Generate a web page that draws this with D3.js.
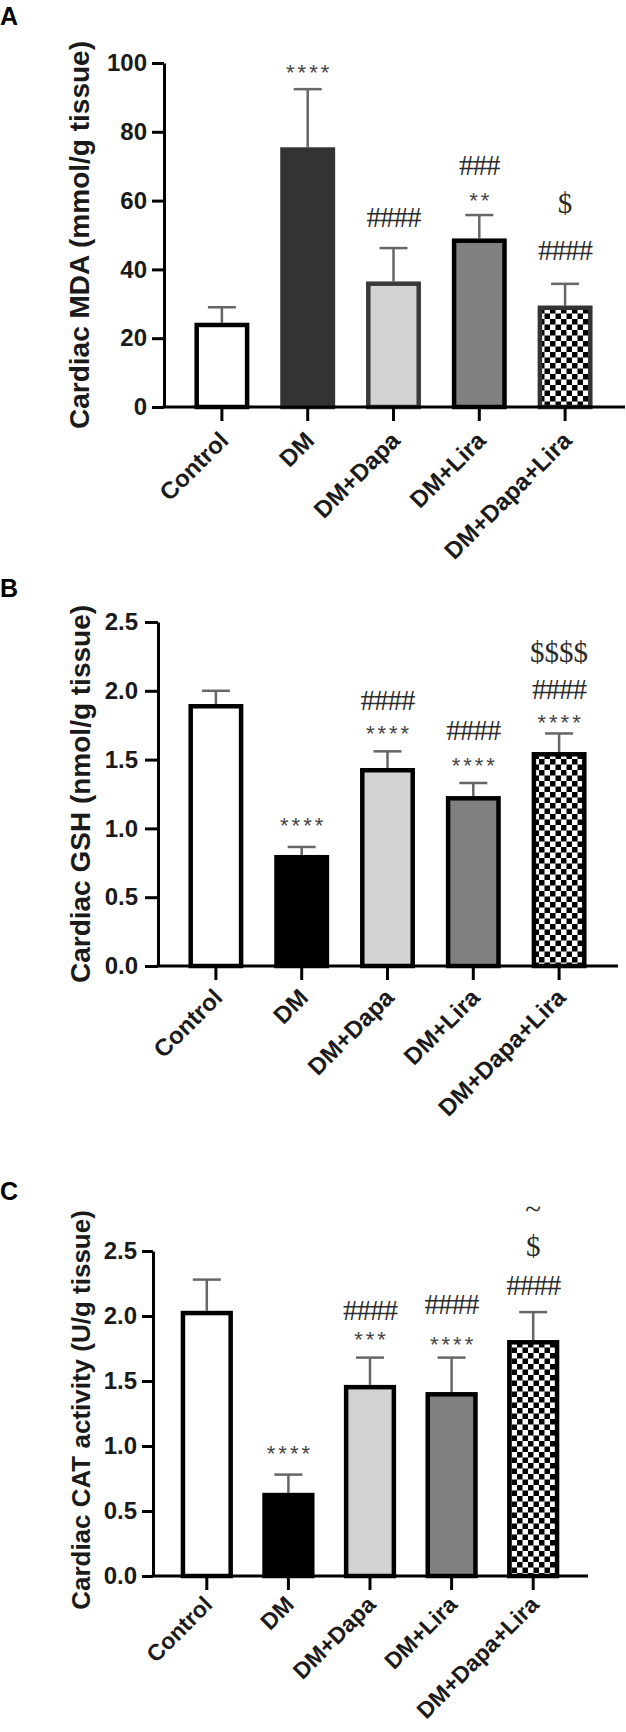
<!DOCTYPE html>
<html>
<head>
<meta charset="utf-8">
<script src="https://cdn.jsdelivr.net/npm/d3@7"></script>
<style>
  html, body { margin: 0; padding: 0; background: #fff; }
  svg { display: block; }
</style>
</head>
<body>
<svg id="chart" width="626" height="1732"></svg>
<script>
// ---------------- DATA ----------------
const categories = ["Control", "DM", "DM+Dapa", "DM+Lira", "DM+Dapa+Lira"];

const mdaMean = [24.5, 75.5, 36.5, 49.0, 29.5];
const mdaSem  = [4.5, 16.9, 9.7, 6.8, 6.3];
const mdaTicks = [0, 20, 40, 60, 80, 100];
const mdaMarks = [
  [],
  [["****", 98.8]],
  [["####", 55.2]],
  [["**", 61.6], ["###", 70.3]],
  [["####", 45.6], ["$", 59.3]]
];

const gshMean = [1.904, 0.807, 1.439, 1.235, 1.555];
const gshSem  = [0.096, 0.058, 0.121, 0.095, 0.135];
const gshTicks = [0.0, 0.5, 1.0, 1.5, 2.0, 2.5];
const gshMarks = [
  [],
  [["****", 1.061]],
  [["****", 1.730], ["####", 1.933]],
  [["****", 1.497], ["####", 1.708]],
  [["****", 1.810], ["####", 2.013], ["$$$$", 2.275]]
];

const catMean = [2.04, 0.64, 1.47, 1.415, 1.815];
const catSem  = [0.24, 0.14, 0.21, 0.265, 0.215];
const catTicks = [0.0, 0.5, 1.0, 1.5, 2.0, 2.5];
const catMarks = [
  [],
  [["****", 0.985]],
  [["***", 1.862], ["####", 2.046]],
  [["****", 1.823], ["####", 2.085]],
  [["####", 2.231], ["$", 2.531], ["~", 2.823]]
];

// ---------------- LAYOUT / STYLE ----------------
const svg = d3.select("#chart");

const defs = svg.append("defs");
const pat = defs.append("pattern")
  .attr("id", "checker")
  .attr("patternUnits", "userSpaceOnUse")
  .attr("width", 11).attr("height", 11);
pat.append("rect").attr("width", 11).attr("height", 11).attr("fill", "#fff");
pat.append("rect").attr("x", 0).attr("y", 0).attr("width", 5.5).attr("height", 5.5).attr("fill", "#000");
pat.append("rect").attr("x", 5.5).attr("y", 5.5).attr("width", 5.5).attr("height", 5.5).attr("fill", "#000");

const panels = [
  {
    letter: "A", letterY: 25,
    mean: mdaMean, sem: mdaSem, ticks: mdaTicks, marks: mdaMarks,
    fmt: d3.format("d"), yMax: 100,
    axisX: 164, y0: 407, y1: 63, xRange: [179, 608], axisEnd: 625,
    tickLen: 12, tickPad: 5,
    yLabel: "Cardiac MDA (mmol/g tissue)", yLabelX: 89, yLabelY: 235, yLabelSize: 28,
    xLabelSize: 24, xLabelDx: 8, xLabelDy: 35,
    fills:   ["#ffffff", "#333333", "#d3d3d3", "#808080", "url(#checker)"],
    strokes: ["#000000", "#333333", "#3a3a3a", "#000000", "#333333"]
  },
  {
    letter: "B", letterY: 597,
    mean: gshMean, sem: gshSem, ticks: gshTicks, marks: gshMarks,
    fmt: d3.format(".1f"), yMax: 2.5,
    axisX: 158, y0: 966, y1: 622, xRange: [173, 602], axisEnd: 618,
    tickLen: 13, tickPad: 7,
    yLabel: "Cardiac GSH (nmol/g tissue)", yLabelX: 90, yLabelY: 794, yLabelSize: 28,
    xLabelSize: 24, xLabelDx: 8, xLabelDy: 33,
    fills:   ["#ffffff", "#000000", "#d3d3d3", "#808080", "url(#checker)"],
    strokes: ["#000000", "#000000", "#000000", "#000000", "#000000"]
  },
  {
    letter: "C", letterY: 1200,
    mean: catMean, sem: catSem, ticks: catTicks, marks: catMarks,
    fmt: d3.format(".1f"), yMax: 2.5,
    axisX: 153, y0: 1576, y1: 1251, xRange: [166, 574], axisEnd: 588,
    tickLen: 11, tickPad: 5,
    yLabel: "Cardiac CAT activity (U/g tissue)", yLabelX: 90, yLabelY: 1410, yLabelSize: 26,
    xLabelSize: 23, xLabelDx: 7, xLabelDy: 30,
    fills:   ["#ffffff", "#000000", "#d3d3d3", "#808080", "url(#checker)"],
    strokes: ["#000000", "#000000", "#000000", "#000000", "#000000"]
  }
];

const sansBold = "'Liberation Sans', Arial, sans-serif";
const serif = "'Liberation Serif', 'Times New Roman', serif";

panels.forEach(p => {
  const g = svg.append("g");

  const x = d3.scaleBand().domain(categories).range(p.xRange)
    .paddingInner(0.36).paddingOuter(0.18);
  const y = d3.scaleLinear().domain([0, p.yMax]).range([p.y0, p.y1]);

  // panel letter
  g.append("text").attr("x", 0).attr("y", p.letterY)
    .attr("font-family", sansBold).attr("font-weight", "bold")
    .attr("font-size", 25).attr("fill", "#000").text(p.letter);

  // y label
  g.append("text")
    .attr("transform", `translate(${p.yLabelX},${p.yLabelY}) rotate(-90)`)
    .attr("text-anchor", "middle")
    .attr("font-family", sansBold).attr("font-weight", "bold")
    .attr("font-size", p.yLabelSize).attr("fill", "#1a1a1a")
    .text(p.yLabel);

  const data = categories.map((c, i) => ({ c, i, m: p.mean[i], s: p.sem[i] }));

  // error bars (upper only)
  const eb = g.append("g").attr("stroke", "#666").attr("stroke-width", 2.5).attr("fill", "none");
  eb.selectAll("line.v").data(data).join("line")
    .attr("x1", d => x(d.c) + x.bandwidth() / 2)
    .attr("x2", d => x(d.c) + x.bandwidth() / 2)
    .attr("y1", d => y(d.m))
    .attr("y2", d => y(d.m + d.s));
  eb.selectAll("line.cap").data(data).join("line")
    .attr("x1", d => x(d.c) + x.bandwidth() / 2 - 14)
    .attr("x2", d => x(d.c) + x.bandwidth() / 2 + 14)
    .attr("y1", d => y(d.m + d.s))
    .attr("y2", d => y(d.m + d.s));

  // bars
  g.append("g").selectAll("rect").data(data).join("rect")
    .attr("x", d => x(d.c) + 2.25)
    .attr("width", x.bandwidth() - 4.5)
    .attr("y", d => y(d.m) + 2.25)
    .attr("height", d => y(0) - y(d.m) - 2.25)
    .attr("fill", d => p.fills[d.i])
    .attr("stroke", d => p.strokes[d.i])
    .attr("stroke-width", 4.5);

  // significance marks
  const mk = g.append("g");
  data.forEach(d => {
    p.marks[d.i].forEach(([t, v]) => {
      const isStar = t[0] === "*";
      mk.append("text")
        .attr("x", x(d.c) + x.bandwidth() / 2 + (isStar ? 1.5 : 0))
        .attr("y", y(v) + (isStar ? 13 : 9.5))
        .attr("text-anchor", "middle")
        .attr("font-family", isStar ? sansBold : serif)
        .attr("font-size", isStar ? 22 : 29)
        .attr("letter-spacing", isStar ? 3 : (t[0] === "#" ? -1 : 0))
        .attr("fill", isStar ? "#444" : "#2a2a2a")
        .text(t);
    });
  });

  // y axis
  const yAxis = d3.axisLeft(y).tickValues(p.ticks).tickFormat(p.fmt)
    .tickSize(p.tickLen).tickSizeOuter(0).tickPadding(p.tickPad);
  const ya = g.append("g").attr("transform", `translate(${p.axisX},0)`).call(yAxis);
  ya.select(".domain").attr("stroke", "#000").attr("stroke-width", 3);
  ya.selectAll(".tick line").attr("stroke", "#000").attr("stroke-width", 3);
  ya.selectAll(".tick text")
    .attr("font-family", sansBold).attr("font-weight", "bold")
    .attr("font-size", 24).attr("fill", "#1a1a1a");

  // x axis
  g.append("line")
    .attr("x1", p.axisX - 1.5).attr("x2", p.axisEnd)
    .attr("y1", y(0)).attr("y2", y(0))
    .attr("stroke", "#000").attr("stroke-width", 3);
  const xAxis = d3.axisBottom(x).tickSize(14).tickSizeOuter(0).tickFormat("");
  const xa = g.append("g").attr("transform", `translate(0,${y(0)})`).call(xAxis);
  xa.select(".domain").remove();
  xa.selectAll(".tick line").attr("stroke", "#000").attr("stroke-width", 3);

  // rotated category labels
  g.append("g").selectAll("text").data(categories).join("text")
    .attr("transform", c => `translate(${x(c) + x.bandwidth() / 2 + p.xLabelDx},${y(0) + p.xLabelDy}) rotate(-45)`)
    .attr("text-anchor", "end")
    .attr("font-family", sansBold).attr("font-weight", "bold")
    .attr("font-size", p.xLabelSize).attr("fill", "#1a1a1a")
    .text(c => c);
});
</script>
</body>
</html>
